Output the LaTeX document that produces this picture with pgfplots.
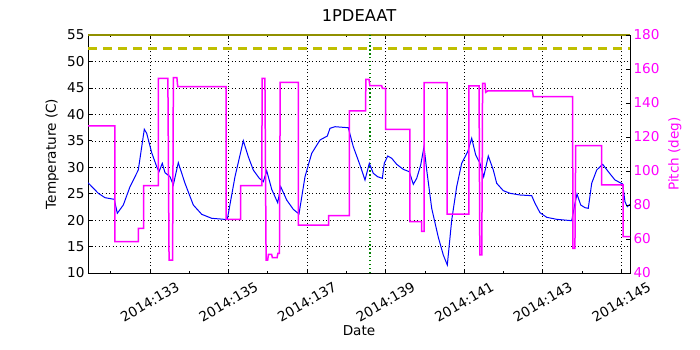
\documentclass[border=0pt]{standalone}
\usepackage{fontspec}
\setmainfont{DejaVu Sans}
\usepackage{pgfplots}
\pgfplotsset{compat=1.18}
\definecolor{mplyellow}{rgb}{0.75,0.75,0}
\definecolor{mplgreen}{rgb}{0,0.5,0}
\definecolor{mplmagenta}{rgb}{1,0,1}

\pgfplotsset{
  twin/.style={
    at={(0,0)}, anchor=south west, scale only axis,
    width=542bp, height=238bp,
    xmin=131.427, xmax=145.222,
    tick align=inside, major tick length=4bp, minor tick length=2bp,
    /pgf/number format/assume math mode=true,
    axis line style={line width=0.8bp},
    every tick/.style={black, line width=0.6bp},
  }
}

\begin{document}
\begin{tikzpicture}[font=\fontsize{13.6bp}{16bp}\selectfont]
\path[use as bounding box] (-88bp,-77bp) rectangle (612bp,273bp);

% temperature (left)
\begin{axis}[twin,
  ymin=10, ymax=55, ytick={10,15,...,55},
  xtick pos=both, ytick pos=left,
  xtick={133,135,...,145},
  xticklabels={2014:133,2014:135,2014:137,2014:139,2014:141,2014:143,2014:145},
  minor xtick={132,134,...,144},
  xticklabel style={yshift=-29bp, rotate=30, anchor=center},
  grid=major,
  major grid style={black, line width=0.5bp, dash pattern=on 1bp off 2.5bp},
  title=1PDEAAT,
  title style={at={(axis description cs:0.5,1.055)}, anchor=center, font=\fontsize{16.3bp}{19bp}\selectfont},
  xlabel=Date,
  xlabel style={at={(axis description cs:0.5,-0.244)}, anchor=center},
  ylabel={Temperature (C)},
  ylabel style={at={(axis description cs:-0.066,0.5)}, anchor=center},
]
\addplot[mplyellow!75!black, line width=1.6bp] coordinates {(131.427,55) (145.222,55)};
\addplot[mplyellow, line width=2.5bp, dash pattern=on 9bp off 6bp] coordinates {(131.427,52.48) (145.222,52.48)};
\addplot[mplgreen, line width=1.3bp, dash pattern=on 1.3bp off 2.6bp] coordinates {(138.604,10) (138.604,55)};
\addplot[blue, line width=1bp] coordinates {
 (131.427,27.07) (131.689,25.07) (131.860,24.24) (132.096,23.93) (132.173,21.29)
 (132.326,22.86) (132.496,26.32) (132.707,29.47) (132.751,31.69) (132.860,37.17)
 (132.921,36.41) (133.048,32.75) (133.176,30.10) (133.234,29.15) (133.318,30.74)
 (133.387,28.97) (133.514,28.21) (133.598,26.64) (133.725,30.86) (133.896,26.96)
 (134.107,22.86) (134.321,21.10) (134.575,20.34) (134.896,20.15) (134.973,20.15)
 (135.168,28.20) (135.380,35.00) (135.507,32.00) (135.634,29.47) (135.787,27.90)
 (135.889,27.26) (135.975,29.34) (136.103,25.82) (136.255,23.29) (136.332,26.32)
 (136.484,23.80) (136.652,22.04) (136.797,21.15) (136.950,28.20) (137.121,32.63)
 (137.332,35.15) (137.518,35.90) (137.586,37.36) (137.714,37.66) (138.052,37.47)
 (138.179,33.88) (138.350,30.40) (138.477,27.58) (138.587,30.74) (138.688,28.85)
 (138.800,28.20) (138.918,27.90) (138.968,30.74) (139.055,32.12) (139.157,31.69)
 (139.284,30.55) (139.452,29.60) (139.605,29.15) (139.707,26.77) (139.793,27.90)
 (139.895,30.42) (139.979,33.88) (140.048,29.47) (140.175,22.23) (140.343,16.75)
 (140.470,13.40) (140.572,11.51) (140.684,20.00) (140.811,26.32) (140.938,30.74)
 (141.091,32.94) (141.193,35.47) (141.295,32.31) (141.404,30.74) (141.498,28.20)
 (141.615,32.12) (141.743,29.47) (141.829,26.96) (141.997,25.57) (142.168,25.07)
 (142.422,24.75) (142.720,24.62) (142.804,23.18) (142.931,21.40) (143.102,20.53)
 (143.356,20.15) (143.738,19.89) (143.822,23.18) (143.873,24.94) (143.967,22.86)
 (144.077,22.35) (144.160,22.23) (144.247,26.96) (144.374,29.47) (144.527,30.55)
 (144.670,29.15) (144.840,27.58) (145.036,26.83) (145.094,23.48) (145.153,22.54)
 (145.222,23.00)
};
\end{axis}

% pitch (right)
\begin{axis}[twin,
  ymin=40, ymax=180, ytick={40,60,...,180},
  axis y line*=right, axis x line=none,
  yticklabel style={mplmagenta},
  ylabel={Pitch (deg)},
  ylabel style={mplmagenta, at={(axis description cs:1.083,0.5)}, anchor=center},
]
\addplot[mplmagenta, line width=1.5bp] coordinates {
 (131.427,126.5) (132.11,126.5) (132.11,58.4) (132.71,58.4) (132.71,66.3)
 (132.84,66.3) (132.84,91.4) (133.22,91.4) (133.22,154.5) (133.46,154.5)
 (133.49,47.6) (133.58,47.6) (133.60,154.9) (133.69,154.9) (133.71,149.6)
 (134.94,149.6) (134.94,71.6) (135.31,71.6) (135.31,91.4) (135.85,91.4)
 (135.86,154.5) (135.93,154.5) (135.96,47.6) (136.00,47.6) (136.02,51.0)
 (136.10,51.0) (136.12,49.0) (136.24,49.0) (136.26,51.5) (136.30,51.5)
 (136.32,152.2) (136.78,152.2) (136.78,68.2) (137.55,68.2) (137.55,73.7)
 (138.08,73.7) (138.08,135.3) (138.49,135.3) (138.50,153.9) (138.58,153.9)
 (138.60,150.2) (138.90,150.2) (138.92,148.6) (139.00,148.6) (139.00,124.5)
 (139.62,124.5) (139.62,70.2) (139.92,70.2) (139.92,64.5) (139.98,64.5)
 (139.98,152.0) (140.57,152.0) (140.57,74.7) (141.12,74.7) (141.12,150.0)
 (141.38,150.0) (141.40,50.6) (141.45,50.6) (141.47,151.6) (141.53,151.6)
 (141.55,146.3) (141.60,147.1) (142.74,147.1) (142.76,143.7) (143.76,143.7)
 (143.77,54.5) (143.82,54.5) (143.84,114.9) (144.50,114.9) (144.50,91.8)
 (145.05,91.8) (145.05,61.4) (145.222,61.4)
};
\end{axis}
\end{tikzpicture}
\end{document}
